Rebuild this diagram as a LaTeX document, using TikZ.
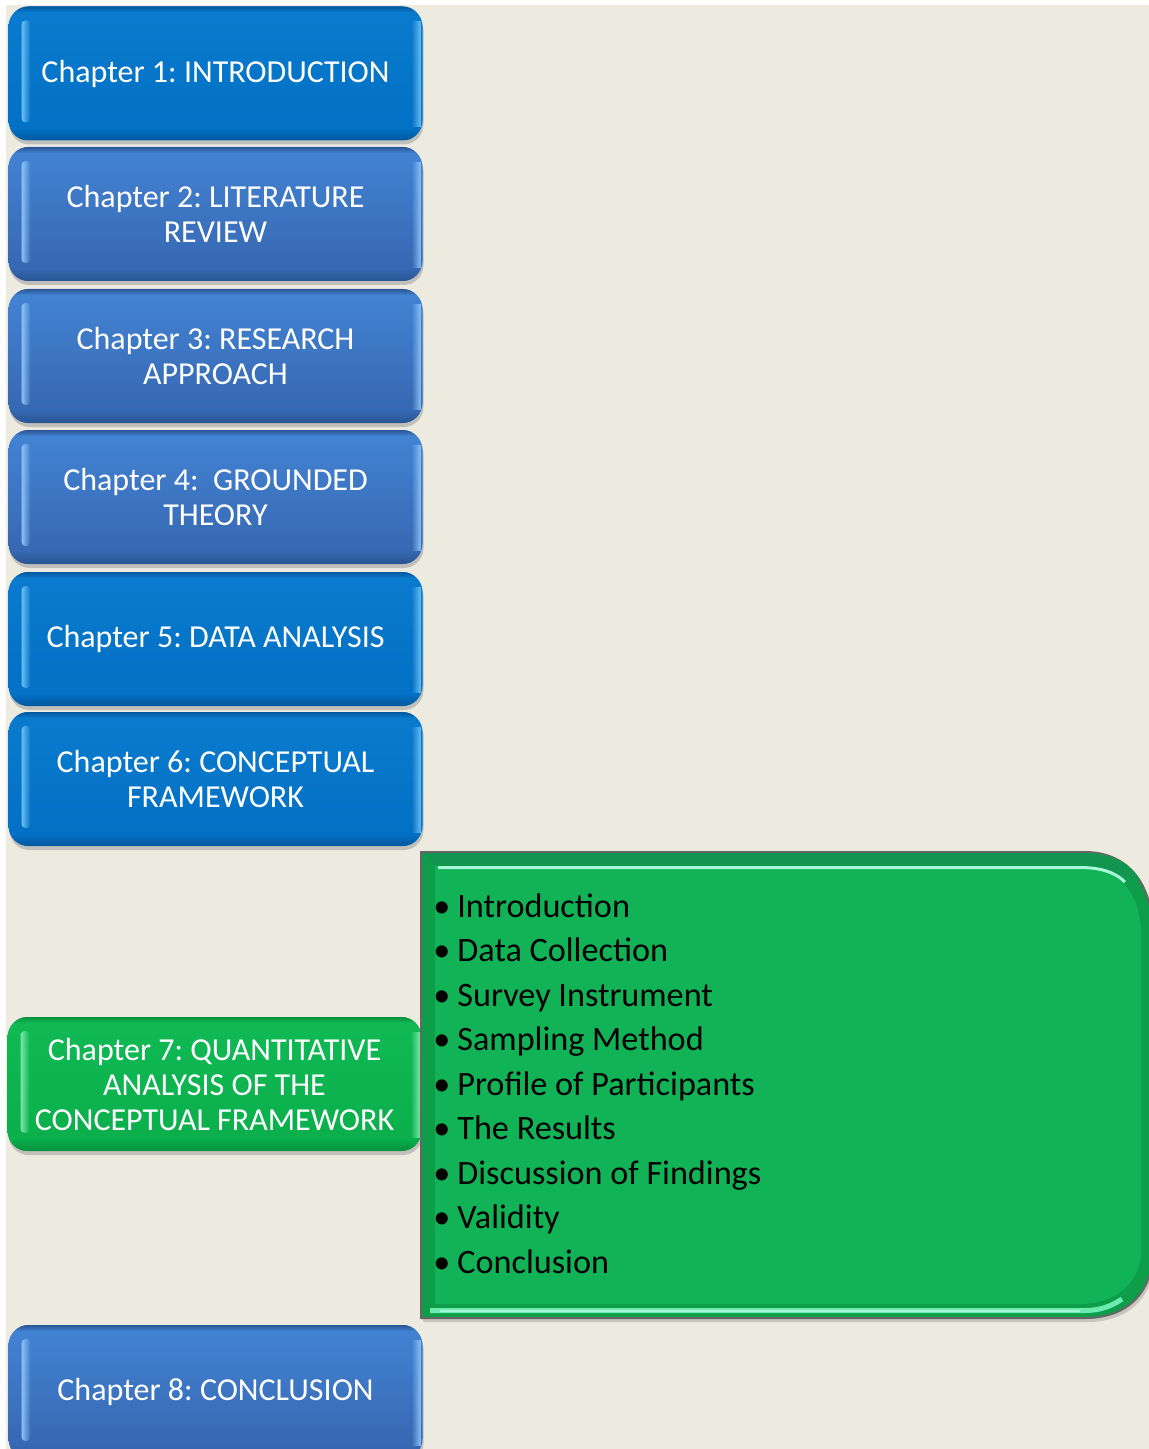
\documentclass[tikz,border=0pt]{standalone}
\usepackage{fontspec}
\setmainfont{Carlito}
\usetikzlibrary{shadows,fadings}
\frenchspacing

\definecolor{paper}{HTML}{EDEAE0}
\definecolor{blueAtop}{HTML}{0A7BCE}
\definecolor{blueAbot}{HTML}{0270C4}
\definecolor{blueAdark}{HTML}{04579E}
\definecolor{blueAlight}{HTML}{6CC0F5}
\definecolor{blueBtop}{HTML}{4384D4}
\definecolor{blueBbot}{HTML}{3565AF}
\definecolor{blueBdark}{HTML}{2A5592}
\definecolor{blueBlight}{HTML}{8CC4F7}
\definecolor{greenTop}{HTML}{10BA55}
\definecolor{greenBot}{HTML}{0AAE4B}
\definecolor{greenDark}{HTML}{07903E}
\definecolor{greenLight}{HTML}{7AE8A8}
\definecolor{panelFace}{HTML}{12B257}
\definecolor{panelSide}{HTML}{0E9E4A}
\definecolor{panelTop}{HTML}{12964F}
\definecolor{panelLine}{HTML}{666666}
\definecolor{panelGlint}{HTML}{A8F7DA}
\definecolor{panelGlow}{HTML}{6BEBB0}

\tikzset{
  rim light/.store in=\rimlight,
  rim dark/.store in=\rimdark,
  chapbox/.style={
    rounded corners=10pt, minimum width=207pt, minimum height=67pt,
    inner sep=0pt, align=center, text=white,
    font=\fontsize{16}{17.5}\selectfont,
    drop shadow={opacity=0.4, shadow xshift=0.5pt, shadow yshift=-2pt},
    path picture={
      \begin{scope}[sharp corners]
        % darker lower and upper edges of the bevel
        \fill[\rimdark, path fading=north]
          ([yshift=6pt]path picture bounding box.south west) rectangle
          (path picture bounding box.south east);
        \fill[\rimdark, path fading=south]
          (path picture bounding box.north west) rectangle
          ([yshift=-3pt]path picture bounding box.north east);
        % light stripe on the left, light rim on the right
        \fill[\rimlight, path fading=east, rounded corners=2pt]
          ([xshift=6.5pt,yshift=-7pt]path picture bounding box.north west) rectangle
          ([xshift=11pt,yshift=9pt]path picture bounding box.south west);
        \fill[\rimlight, path fading=west]
          ([xshift=-5.5pt,yshift=-7.5pt]path picture bounding box.north east) rectangle
          ([xshift=-0.6pt,yshift=6.5pt]path picture bounding box.south east);
      \end{scope}
    }},
  chapblue/.style={chapbox, top color=blueAtop, bottom color=blueAbot,
    rim light=blueAlight, rim dark=blueAdark},
  chapsteel/.style={chapbox, top color=blueBtop, bottom color=blueBbot,
    rim light=blueBlight, rim dark=blueBdark},
  chapgreen/.style={chapbox, top color=greenTop, bottom color=greenBot,
    rim light=greenLight, rim dark=greenDark},
  item/.style={anchor=base west, inner sep=0pt,
    font=\fontsize{17.1}{20}\selectfont, text=black},
}

\begin{document}
\begin{tikzpicture}[x=0.5pt,y=-0.5pt]
  \useasboundingbox (0,0) rectangle (1149,1449);
  \fill[white] (0,0) rectangle (1149,1449);
  \fill[paper] (6,5) rectangle (1149,1449);

  % chapter boxes
  \node[chapblue]  (ch1) at (215.5,73.5) {Chapter 1: INTRODUCTION};
  \node[chapsteel] (ch2) at (215.5,214)  {Chapter 2: LITERATURE\\REVIEW};
  \node[chapsteel] (ch3) at (215.5,356)  {Chapter 3: RESEARCH\\APPROACH};
  \node[chapsteel] (ch4) at (215.5,497)  {Chapter 4:\ \ GROUNDED\\THEORY};
  \node[chapblue]  (ch5) at (215.5,639)  {Chapter 5: DATA ANALYSIS};
  \node[chapblue]  (ch6) at (215.5,779)  {Chapter 6: CONCEPTUAL\\FRAMEWORK};
  \node[chapgreen] (ch7) at (214.5,1084) {Chapter 7: QUANTITATIVE\\ANALYSIS OF THE\\CONCEPTUAL FRAMEWORK};
  \node[chapsteel] (ch8) at (215.5,1392) {Chapter 8: CONCLUSION};

  % bevelled panel listing the sections of chapter 7
  \path[fill=panelSide, draw=panelLine, line width=1pt,
        drop shadow={opacity=0.35, shadow xshift=1pt, shadow yshift=-2pt}]
    (421,852) -- (1085,852) .. controls (1125,852) and (1153,880) .. (1153,935)
    -- (1153,1250) .. controls (1153,1295) and (1125,1318) .. (1085,1318)
    -- (421,1318) -- cycle;
  \fill[panelTop]
    (422,853) -- (1085,853) .. controls (1110,853) and (1130,862) .. (1140,880)
    -- (1080,866) -- (436,866) -- cycle;
  \fill[panelFace]
    (435,866) -- (1080,866) .. controls (1115,866) and (1141,890) .. (1141,935)
    -- (1141,1250) .. controls (1141,1283) and (1115,1304) .. (1080,1304)
    -- (435,1304) -- cycle;
  \draw[panelGlint, line width=1.5pt]
    (438,867.5) -- (1080,867.5) .. controls (1100,867.5) and (1115,872) .. (1125,882);
  \draw[panelGlow, line width=2.5pt]
    (430,1310.5) -- (1085,1310.5) .. controls (1100,1310.5) and (1112,1306) .. (1122,1299);
  \draw[panelGlint, line width=1pt]
    (440,1310.5) -- (1080,1310.5);

  \foreach \t [count=\i from 0] in {Introduction, Data Collection,
      Survey Instrument, Sampling Method, Profile of Participants,
      The Results, Discussion of Findings, Validity, Conclusion}
    \node[item] (item\i) at (433, 917+44.5*\i) {\makebox[12pt][l]{•}\t};
\end{tikzpicture}
\end{document}
